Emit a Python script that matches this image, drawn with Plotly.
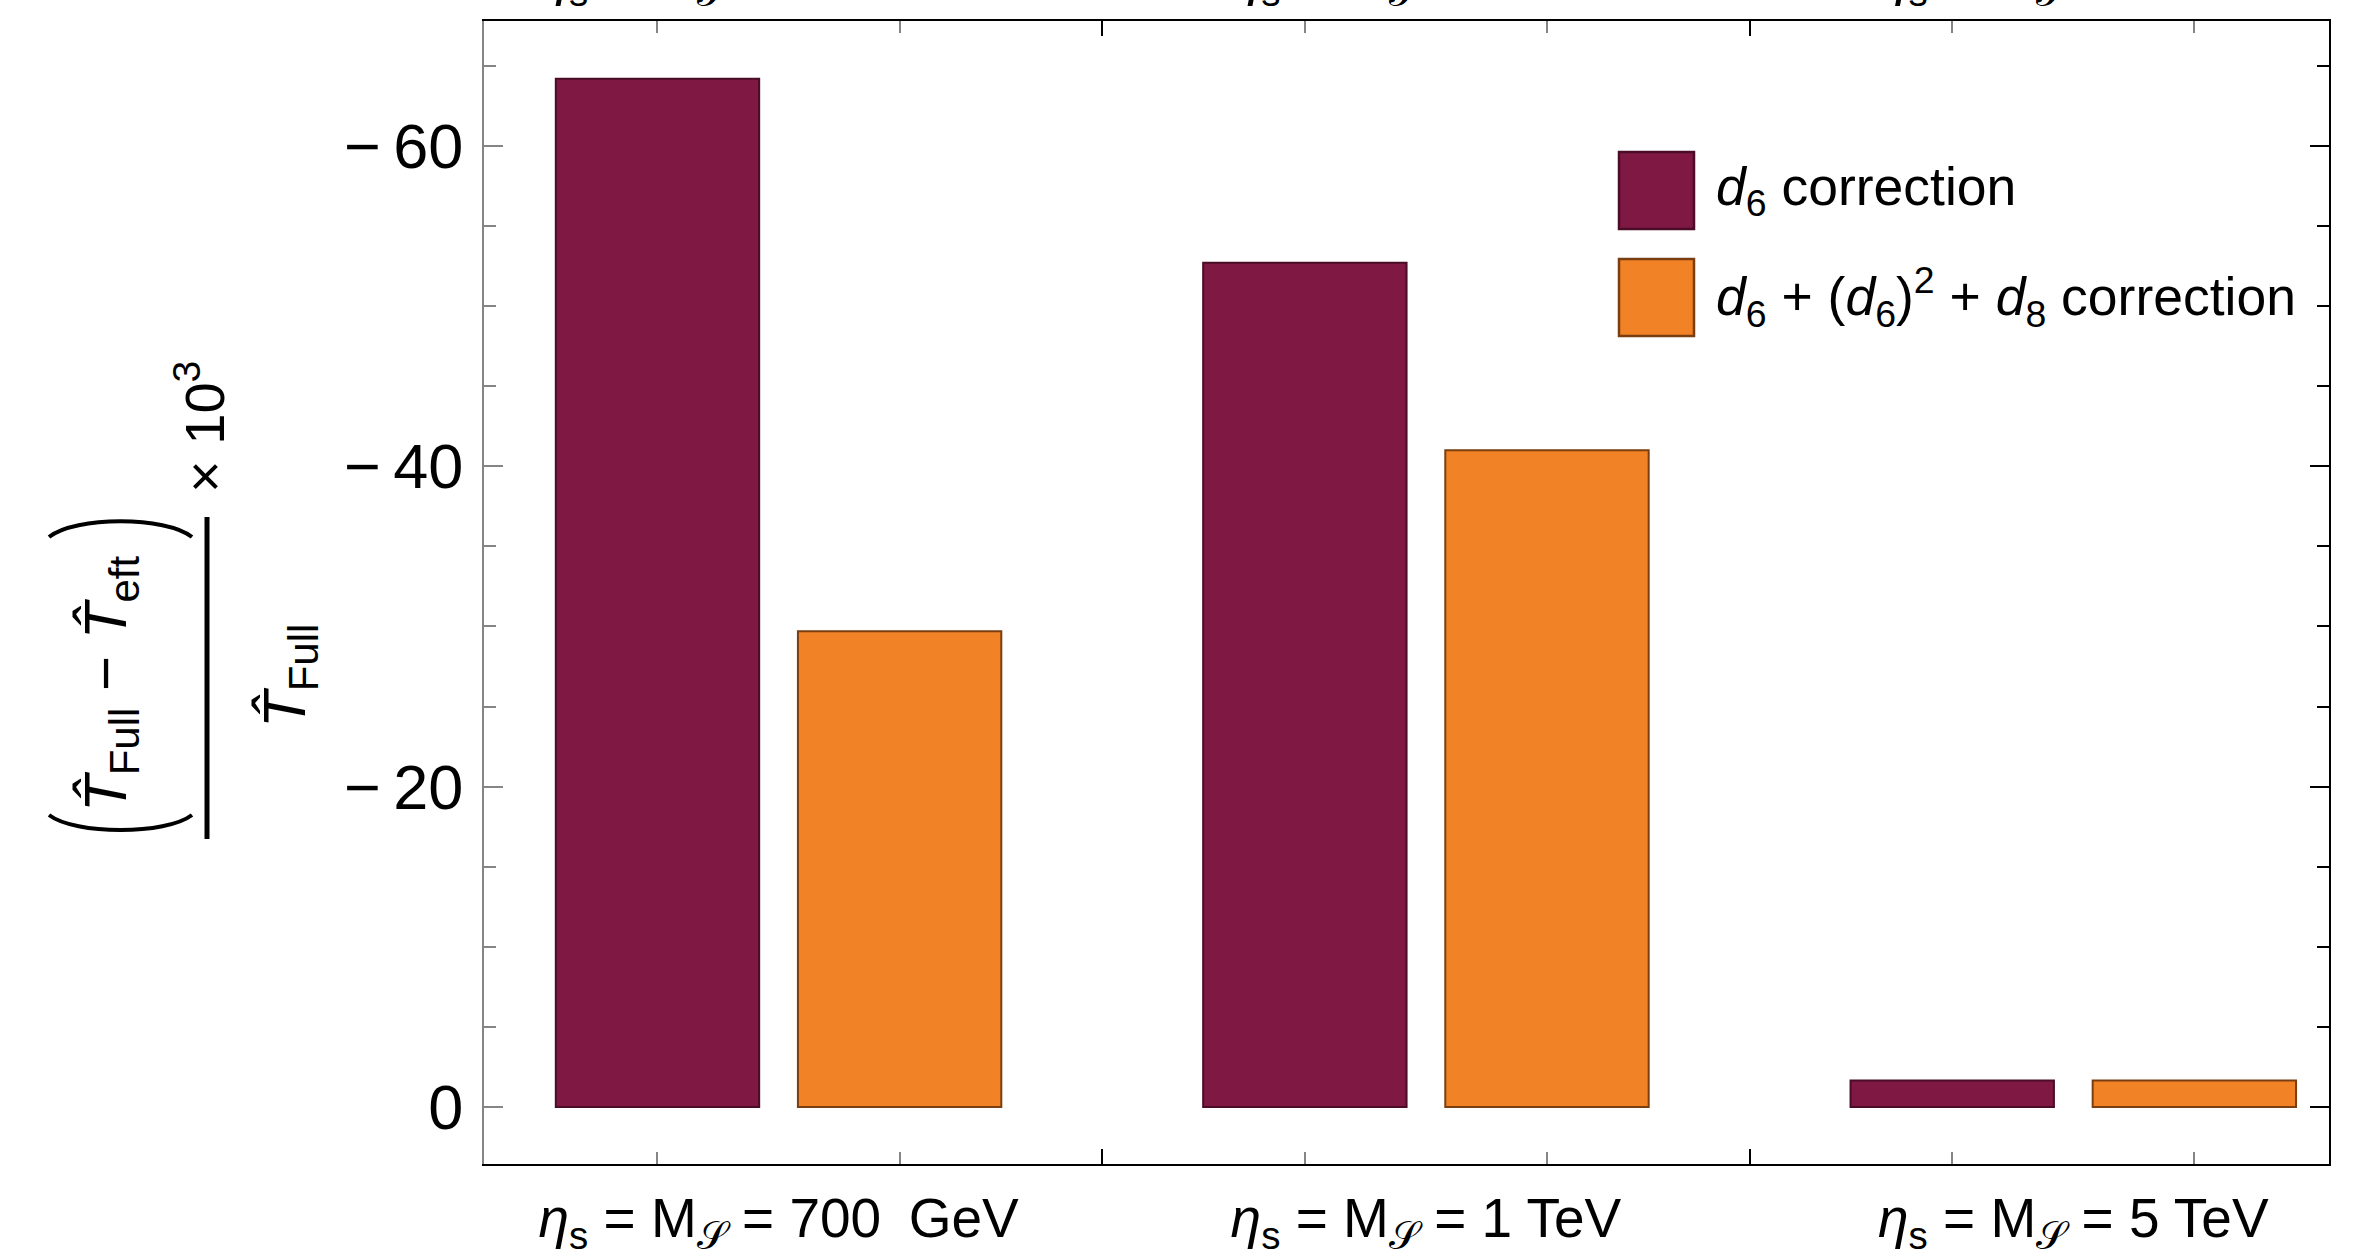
import plotly.graph_objects as go

# ---------------- data ----------------
categories = ["700 GeV", "1 TeV", "5 TeV"]
category_labels = [
    "<i>η</i><sub>s</sub> = M<sub>𝒮</sub> = 700\u2002GeV",
    "<i>η</i><sub>s</sub> = M<sub>𝒮</sub> = 1 TeV",
    "<i>η</i><sub>s</sub> = M<sub>𝒮</sub> = 5 TeV",
]
series_names = [
    "<i>d</i><sub>6</sub> correction",
    "<i>d</i><sub>6</sub> + (<i>d</i><sub>6</sub>)<sup>2</sup> + <i>d</i><sub>8</sub> correction",
]
d6_values = [-64.2, -52.7, -1.65]
full_values = [-29.7, -41.0, -1.65]
y_tick_values = [-60, -40, -20, 0]
y_tick_labels = ["\u2212\u200960", "\u2212\u200940", "\u2212\u200920", "0"]

# ---------------- style ----------------
FONT = "Liberation Sans, Arial, Helvetica, sans-serif"
FILL = ["#7F1944", "#F28226"]
EDGE = ["#4A0C26", "#7A3E10"]
W_FIG, H_FIG = 2361, 1260
ML, MR, MT, MB = 484, 32, 21, 96
PW, PH = W_FIG - ML - MR, H_FIG - MT - MB
XR = [-0.455, 2.395]
YR = [3.56, -67.8]
BARGAP, BARGROUPGAP = 0.252, 0.16
GRAY = "#858585"


def px(x):
    return (x - ML) / PW


def py(y):
    return (H_FIG - MB - y) / PH


fig = go.Figure()
for name, vals, fc, ec in zip(series_names, [d6_values, full_values], FILL, EDGE):
    fig.add_trace(go.Bar(x=categories, y=vals, name=name, marker=dict(color=fc, line=dict(color=ec, width=2)),
                         showlegend=False))

# tick positions derived from the bar layout
half = (1 - BARGAP) / 4
ngrp = len(categories)
bar_centres = [g + s * half for g in range(ngrp) for s in (-1, 1)]
separators = [g + 0.5 for g in range(ngrp - 1)]

common_x = dict(range=XR, showgrid=False, zeroline=False)
fig.update_layout(
    width=W_FIG, height=H_FIG,
    margin=dict(l=ML, r=MR, t=MT, b=MB, autoexpand=False),
    paper_bgcolor="white", plot_bgcolor="white",
    barmode="group", bargap=BARGAP, bargroupgap=BARGROUPGAP,
    font=dict(family=FONT, color="black"),
    xaxis=dict(type="category", tickvals=categories, ticktext=category_labels, ticks="",
               tickfont=dict(size=55), ticklabelstandoff=5,
               showline=True, linecolor="black", linewidth=2, mirror=True, **common_x),
    xaxis2=dict(overlaying="x", anchor="y", type="linear", tickmode="array", tickvals=bar_centres,
                ticks="inside", ticklen=12, tickwidth=2, tickcolor=GRAY, mirror="ticks",
                showline=False, showticklabels=False, **common_x),
    xaxis3=dict(overlaying="x", anchor="y", type="linear", tickmode="array", tickvals=separators,
                ticks="inside", ticklen=15, tickwidth=2, tickcolor="black", mirror="ticks",
                showline=False, showticklabels=False, **common_x),
    xaxis4=dict(overlaying="x", anchor="y", side="top", type="linear", tickmode="array",
                tickvals=list(range(ngrp)), ticktext=category_labels, ticks="",
                tickfont=dict(size=55), ticklabelstandoff=15, showline=False, **common_x),
    yaxis=dict(range=YR, tickmode="array", tickvals=y_tick_values, ticktext=y_tick_labels,
               ticks="inside", ticklen=19, tickwidth=2,
               tickcolor=GRAY, tickfont=dict(size=63), ticklabelstandoff=6,
               minor=dict(dtick=5, tick0=0, ticks="inside", ticklen=12, tickwidth=2, tickcolor=GRAY),
               showline=True, linecolor=GRAY, linewidth=2, showgrid=False, zeroline=False),
    yaxis2=dict(overlaying="y", side="right", anchor="x", range=YR, tickmode="array", tickvals=y_tick_values,
                ticks="inside", ticklen=19, tickwidth=2, tickcolor="black", showticklabels=False,
                minor=dict(dtick=5, tick0=0, ticks="inside", ticklen=12, tickwidth=2, tickcolor="black"),
                showline=True, linecolor="black", linewidth=2, showgrid=False, zeroline=False),
)
# invisible traces so overlay axes are active
for xa in ["x2", "x3", "x4"]:
    fig.add_trace(go.Scatter(x=[None], y=[None], xaxis=xa, yaxis="y", showlegend=False, hoverinfo="skip"))
fig.add_trace(go.Scatter(x=[None], y=[None], xaxis="x", yaxis="y2", showlegend=False, hoverinfo="skip"))


def ann(x, y, text, size, angle=-90, xanchor="center"):
    return dict(xref="paper", yref="paper", x=px(x), y=py(y), text=text, showarrow=False,
                textangle=angle, font=dict(size=size, family=FONT, color="black"),
                xanchor=xanchor, yanchor="middle")


annotations = [
    ann(110, 684, "<i>T\u0302</i><sub>Full</sub> \u2212 <i>T\u0302</i><sub>eft</sub>", 60),
    ann(289, 676, "<i>T\u0302</i><sub>Full</sub>", 60),
    ann(201, 427, "× 10<sup>3</sup>", 56),
]
# legend text
leg_y = [190, 297]
for name, yy in zip(series_names, leg_y):
    annotations.append(ann(1714, yy, name, 53.5, angle=0, xanchor="left"))
fig.update_layout(annotations=annotations)

shapes = [
    # fraction bar
    dict(type="line", xref="paper", yref="paper", x0=px(207), x1=px(207), y0=py(517), y1=py(839),
         line=dict(color="black", width=5)),
    # big parentheses
    dict(type="path", xref="paper", yref="paper",
         path=f"M {px(49)},{py(815)} C {px(75)},{py(835)} {px(166)},{py(835)} {px(192)},{py(815)}",
         line=dict(color="black", width=4)),
    dict(type="path", xref="paper", yref="paper",
         path=f"M {px(49)},{py(537)} C {px(75)},{py(516)} {px(166)},{py(516)} {px(192)},{py(537)}",
         line=dict(color="black", width=4)),
]
# legend swatches
for fc, ec, (y0, y1) in zip(FILL, EDGE, [(152, 229), (259, 336)]):
    shapes.append(dict(type="rect", xref="paper", yref="paper", x0=px(1619), x1=px(1694), y0=py(y1), y1=py(y0),
                       fillcolor=fc, line=dict(color=ec, width=2.5)))
fig.update_layout(shapes=shapes)

fig.write_html("out.html", config={"displayModeBar": False},
               post_script="document.body.style.margin='0';document.body.style.overflow='hidden';")
